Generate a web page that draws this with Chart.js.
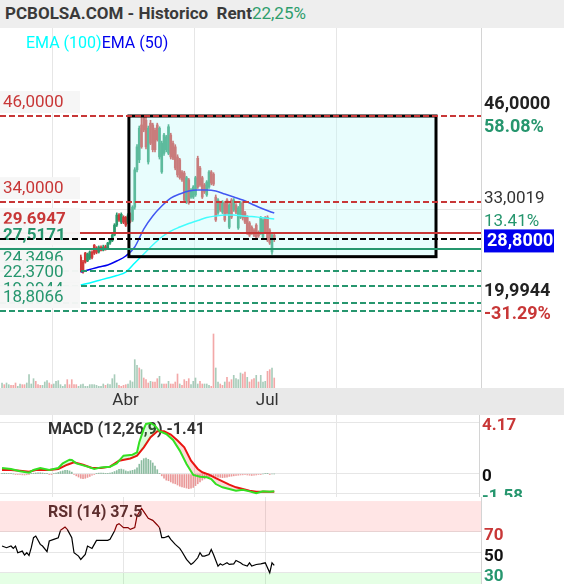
<!DOCTYPE html>
<html>
<head>
<meta charset="utf-8">
<script src="https://cdn.jsdelivr.net/npm/chart.js@4.4.0/dist/chart.umd.min.js"></script>
<style>
body { margin: 0; background: #fff; }
#wrap { position: relative; width: 564px; height: 584px; overflow: hidden; background: #fff; font-family: Roboto, sans-serif; }
#title { position: absolute; left: 0; top: 0; width: 564px; height: 28px; background: #eeeeee; white-space: pre; font: bold 17px Roboto; color: #3a3a3a; line-height: 26px; padding-left: 5px; box-sizing: border-box; }
#title span { color: #2d9d6c; font-weight: 400; }
#legend { position: absolute; left: 26px; top: 33px; font: 16px Roboto; white-space: pre; }
canvas { position: absolute; left: 0; }
</style>
</head>
<body>
<div id="wrap">
  <div id="title">PCBOLSA.COM - Historico  Rent<span>22,25%</span></div>
  <canvas id="priceChart" width="564" height="387" style="top:28px"></canvas>
  <canvas id="macdChart" width="564" height="82" style="top:415px"></canvas>
  <canvas id="rsiChart" width="564" height="87" style="top:497px"></canvas>
  <div id="legend"><span style="color:#00ffff">EMA (100)</span><span style="color:#0000ee">EMA (50)</span></div>
</div>
<script>
// x axis: one bar per trading day, index 0..121
const monthLabels = ["Abr", "Jul"];
const monthIdx = [54, 117];

// candles (first visible one is bar 35, the older ones sit under the label boxes)
const candleStart = 35;
const opens = [26.35,25.65,26.9,25.8,26.2,27.0,28.0,27.6,27.05,27.7,27.3,27.8,27.6,28.3,28.6,29.4,30.8,32.2,31.2,31.9,31.9,31.2,32.3,31.5,33.3,38.5,39.9,44.75,45.9,45.4,39.6,45.0,44.75,44.0,44.75,40.3,38.2,40.8,41.3,40.8,43.35,42.2,41.7,40.3,39.9,38.2,38.05,34.0,37.1,34.7,34.7,35.0,40.1,38.75,37.4,36.4,35.0,36.1,38.2,37.9,34.7,32.5,33.9,32.6,33.9,34.3,30.5,34.3,32.9,33.6,30.4,31.9,33.9,32.5,31.9,31.1,30.5,30.1,30.8,29.8,29.7,29.1,31.8,31.9,30.1,27.05,29.4];
const closes = [24.54,24.26,25.65,26.77,27.05,26.3,26.9,27.0,27.75,27.3,27.75,27.4,28.3,28.7,29.4,30.8,32.2,31.5,32.3,31.2,30.8,32.2,31.3,33.3,38.5,41.7,44.3,41.7,44.05,41.7,44.3,42.2,41.3,41.3,42.7,44.3,42.2,43.35,43.1,44.5,40.3,40.1,38.75,37.8,37.4,37.1,34.3,37.4,33.9,35.7,36.1,37.4,36.1,36.4,34.7,35.4,36.8,38.2,36.65,36.5,31.5,34.3,32.9,34.0,31.5,32.5,33.6,31.9,34.3,32.6,33.2,33.9,31.8,31.2,29.7,29.4,29.7,29.4,29.1,29.3,31.8,31.5,29.8,28.7,28.3,29.4,28.8];
const highs = [26.63,25.9,27.0,26.9,27.2,27.2,28.1,27.8,27.9,27.9,28.0,28.0,28.4,28.9,29.6,31.0,32.5,32.4,32.5,32.1,32.0,32.4,32.5,33.5,38.8,42.0,44.6,45.9,46.1,46.0,44.6,45.4,45.0,44.3,45.0,44.5,42.5,43.6,43.3,44.8,43.6,42.5,42.0,40.6,40.1,38.4,38.3,37.6,37.3,35.9,36.3,37.6,40.4,39.0,37.6,36.6,37.0,38.4,38.4,38.1,35.0,34.5,34.1,34.2,34.1,34.5,33.8,34.5,34.5,33.8,33.4,34.1,34.1,32.7,32.1,31.3,30.7,30.3,31.0,30.0,32.0,31.7,32.0,32.1,30.3,29.6,29.6];
const lows = [24.26,24.1,25.5,25.7,26.0,26.1,26.7,26.8,26.9,27.2,27.2,27.3,27.5,28.1,28.5,29.3,30.6,31.3,31.0,31.0,30.6,31.0,31.1,31.3,33.0,38.2,39.5,41.5,43.8,41.4,39.3,42.0,41.0,41.0,42.5,40.0,38.0,40.5,41.0,40.6,40.0,39.9,38.5,37.5,37.2,36.9,34.0,33.8,33.7,34.5,34.5,34.8,35.9,36.2,34.5,35.2,34.8,35.9,36.4,36.3,31.3,32.3,32.7,32.4,31.3,32.3,30.3,31.7,32.7,32.4,30.2,31.7,31.5,31.0,29.5,29.2,29.5,29.2,28.9,29.1,29.5,28.9,29.6,28.5,28.1,26.7,28.5];

// moving averages
const emaIdx = [35,39,43,47,51,55,59,63,67,71,75,79,83,87,91,95,99,103,107,111,115,119,121];
const ema50 = [24.26,24.61,24.96,25.24,25.79,26.49,27.75,30.25,32.07,33.46,34.57,35.13,35.55,35.69,35.69,35.55,35.13,34.71,34.29,33.74,33.18,32.69,32.48];
const ema100 = [22.45,22.73,23.08,23.43,23.77,24.26,25.52,26.77,28.02,29.14,29.97,30.53,31.02,31.44,31.86,32.07,32.20,32.20,32.07,32.00,31.86,31.72,31.65];

// volume in thousands, 1 = up day
const volumes = [150,100,150,100,80,80,150,50,120,100,100,150,400,120,280,200,100,80,80,180,220,150,100,120,200,220,100,50,100,250,100,250,100,100,50,100,120,50,50,100,100,100,80,50,50,120,80,120,100,280,400,150,80,50,80,100,120,220,180,850,680,600,550,300,250,150,200,180,180,280,350,120,120,120,200,120,120,180,420,120,80,250,200,280,100,200,300,120,200,120,120,120,80,50,1620,600,180,120,80,180,320,180,250,380,280,250,450,420,480,320,180,250,280,380,180,380,180,200,500,550,600,300];
const volUp = [1,0,1,1,0,0,0,1,1,0,0,1,1,1,1,0,0,0,1,1,1,0,0,1,1,1,1,1,1,0,0,0,0,0,1,1,1,1,1,1,1,1,1,1,1,1,0,1,1,1,1,1,0,0,0,0,1,1,1,1,1,0,1,0,0,0,1,0,0,0,1,1,0,0,1,0,0,0,0,1,0,0,0,0,1,1,1,1,0,0,1,1,1,0,0,1,1,0,0,1,0,0,0,1,1,1,1,0,0,1,0,0,0,1,0,1,1,1,0,0,1,0];

// levels
const boxX = [56.4, 192.9];
const boxY = [26.4, 46];
const leftLevels = [46, 34, 29.6947, 27.5171, 24.3496, 22.37, 19.9944, 18.8066];
const leftIsRed = [1, 1, 1, 0, 0, 0, 0, 0];
const leftBold = [0, 0, 1, 1, 0, 0, 0, 0];
const lineLevels = [29.6947, 24.3496, 22.37, 19.9944, 18.8066, 46, 34, 28.8, 27.5171];
const lineColors = ["red", "green", "green", "green", "green", "red", "red", "black", "green"];
const lineDashed = [0, 1, 1, 1, 1, 1, 1, 1, 0];
const lineOnTop = [0, 0, 0, 0, 0, 1, 1, 1, 1];
const rightLevels = [46, 33.0019, 28.8, 19.9944];
const rightBold = [1, 0, 1, 1];
const lastPrice = 28.8;
const baseValue = 29.1;

// MACD (12,26,9)
const macdIdx = [0,4,8,12,14,17,21,25,27,30,31,33,38,41,44,48,51,54,58,60,61,63,64,66,68,70,73,76,79,82,85,88,91,93,95,98,101,104,107,110,113,116,119,121];
const macdVal = [0.49,0.41,0.22,0.11,0.33,0.49,0.33,0.49,0.87,1.17,1.14,0.87,0.60,0.41,0.54,0.60,0.87,1.50,1.58,1.77,2.59,3.68,4.09,4.17,3.95,3.49,3.27,2.78,1.91,0.82,-0.08,-0.22,-0.27,-0.41,-0.82,-1.09,-1.23,-1.37,-1.28,-1.42,-1.58,-1.42,-1.45,-1.41];
const sigIdx = [0,4,8,12,15,21,25,29,32,36,40,44,48,52,57,60,63,66,69,72,75,78,81,84,87,89,92,95,98,101,104,107,110,113,116,119,121];
const sigVal = [0.33,0.33,0.27,0.19,0.33,0.33,0.41,0.76,0.95,0.76,0.49,0.49,0.60,1.09,1.27,1.50,2.18,3.00,3.49,3.49,3.22,2.73,2.18,1.09,0.41,0.14,-0.05,-0.33,-0.60,-0.87,-1.09,-1.23,-1.37,-1.45,-1.45,-1.45,-1.45];
const histVal = [0.05,0.06,0.05,0.04,0.03,0.0,-0.03,-0.05,-0.06,-0.07,-0.08,-0.06,-0.03,0.03,0.06,0.08,0.1,0.1,0.08,0.05,0.02,-0.03,-0.02,0.04,0.08,0.13,0.2,0.25,0.3,0.3,0.25,0.15,-0.05,-0.15,-0.25,-0.35,-0.38,-0.35,-0.28,-0.2,-0.1,-0.03,0.05,0.07,0.08,0.07,0.05,0.05,0.08,0.12,0.2,0.28,0.38,0.4,0.35,0.25,0.2,0.25,0.3,0.35,0.5,0.8,1.1,1.25,1.3,1.2,1.1,0.9,0.65,0.35,0.05,-0.15,-0.35,-0.5,-0.55,-0.65,-0.75,-0.8,-0.9,-1.0,-1.05,-1.1,-1.15,-1.2,-1.15,-1.1,-0.95,-0.8,-0.65,-0.5,-0.4,-0.3,-0.25,-0.2,-0.18,-0.2,-0.25,-0.28,-0.3,-0.28,-0.25,-0.2,-0.18,-0.15,-0.12,-0.1,-0.08,-0.07,-0.06,-0.08,-0.1,-0.12,-0.1,-0.08,-0.05,-0.03,0.0,0.04,0.03,-0.02,0,0];
const macdTicks = [4.17, 0, -1.58];

// RSI (14)
const rsiIdx = [0,2,4,5,6,7,9,10,11,12,13,14,15,17,18,20,21,23,25,26,28,29,31,32,34,35,37,38,40,42,44,47,48,50,51,52,54,56,57,59,60,62,63,65,67,69,70,71,72,74,75,77,79,80,82,84,85,87,88,89,90,92,93,94,96,97,98,100,101,103,104,106,107,109,110,111,113,115,117,119,120,121];
const rsiVal = [56.2,54.6,56.2,53.9,56.2,49.7,51.3,47.4,49.7,47.1,54.6,64.3,65.9,57.8,56.2,50.7,61.1,62.7,64.3,71.5,74.7,72.4,64.3,49.7,46.4,43.2,48.0,56.2,53.9,61.7,61.7,61.7,62.7,70.8,76.7,78.0,74.1,74.1,72.4,74.1,85.4,92.9,89.7,83.2,81.2,76.7,74.1,64.3,64.3,65.9,62.7,57.8,53.9,50.7,43.2,38.3,39.9,44.8,49.7,46.4,46.4,48.0,52.9,48.0,36.7,38.9,37.6,39.9,38.3,38.9,42.2,39.9,38.3,36.7,39.9,36.7,38.3,38.9,39.9,30.2,39.9,37.5];
const rsiTicks = [70, 50, 30];

const RED = "#c83737";
const GREEN = "#26966e";
const UP = "#2a9a6c";
const DOWN = "#d03a3a";
const GRID = "#e6e6e6";

function fmt(v) {
    return v.toFixed(4).replace(".", ",");
}

function xScale(max) {
    return {
        type: "linear", min: -0.9, max: max, offset: false,
        ticks: { display: false },
        grid: { color: GRID, drawTicks: false },
        border: { display: false },
        afterBuildTicks: s => { s.ticks = monthIdx.map(v => ({ value: v })); }
    };
}

function yScale(min, max, lines) {
    return {
        position: "right", min: min, max: max,
        ticks: { display: false },
        grid: { color: GRID, drawTicks: false },
        border: { display: true, color: "#d4d4d4" },
        afterBuildTicks: s => { s.ticks = lines.map(v => ({ value: v })); }
    };
}

// ---------- price panel ----------
let candleUp = opens.map((o, k) => closes[k] >= o);
let bodies = opens.map((o, k) => ({ x: candleStart + k, y: [o, closes[k]] }));
let wicks = opens.map((o, k) => ({ x: candleStart + k, y: [lows[k], highs[k]] }));

function drawLevels(ctx, area, y, onTop) {
    lineLevels.forEach((v, k) => {
        if (!!lineOnTop[k] !== onTop) return;
        let py = Math.round(y.getPixelForValue(v));
        ctx.beginPath();
        ctx.setLineDash(lineDashed[k] ? [6, 3] : []);
        ctx.lineWidth = 2;
        ctx.strokeStyle = lineColors[k] === "red" ? RED : lineColors[k] === "green" ? GREEN : "#000";
        ctx.moveTo(area.left, py);
        ctx.lineTo(area.right, py);
        ctx.stroke();
    });
    ctx.setLineDash([]);
}

const pricePlugin = {
    id: "pricePlugin",
    afterDatasetsDraw(chart) {
        const { ctx, chartArea: area, scales: { x, y } } = chart;
        ctx.save();
        let bx0 = x.getPixelForValue(boxX[0]), bx1 = x.getPixelForValue(boxX[1]);
        let by0 = y.getPixelForValue(boxY[1]), by1 = y.getPixelForValue(boxY[0]);
        ctx.fillStyle = "rgba(190,250,250,0.35)";
        ctx.fillRect(bx0, by0, bx1 - bx0, by1 - by0);
        ctx.lineWidth = 3;
        ctx.strokeStyle = "#000";
        ctx.strokeRect(bx0, by0, bx1 - bx0, by1 - by0);

        drawLevels(ctx, area, y, false);

        ctx.textBaseline = "middle";
        leftLevels.forEach((v, k) => {
            let py = y.getPixelForValue(v);
            ctx.fillStyle = "rgba(246,246,246,0.97)";
            ctx.fillRect(0, py - 25, 80, 22);
            ctx.fillStyle = leftIsRed[k] ? RED : GREEN;
            ctx.font = (leftBold[k] ? "bold " : "") + "17px Roboto";
            ctx.fillText(fmt(v), 3, py - 13);
        });

        drawLevels(ctx, area, y, true);

        let rx = area.right + 3;
        rightLevels.forEach((v, k) => {
            let py = y.getPixelForValue(v);
            if (v === lastPrice) {
                ctx.fillStyle = "#0000ee";
                ctx.fillRect(rx, py - 10, 70, 23);
                ctx.fillStyle = "#fff";
                ctx.font = "bold 18px Roboto";
                ctx.fillText(fmt(v), rx + 3, py + 2);
                return;
            }
            let pct = (v / baseValue - 1) * 100;
            ctx.font = (rightBold[k] ? "bold " : "") + (rightBold[k] ? "18px" : "17px") + " Roboto";
            ctx.fillStyle = rightBold[k] ? "#222" : "#333";
            ctx.fillText(fmt(v), rx, py - 11);
            ctx.fillStyle = pct >= 0 ? GREEN : RED;
            ctx.fillText(pct.toFixed(2) + "%", rx, py + 12);
        });
        ctx.restore();
    },
    afterDraw(chart) {
        const { ctx, chartArea: area, scales: { x } } = chart;
        ctx.save();
        ctx.fillStyle = "#e9e9e9";
        ctx.fillRect(0, area.bottom, chart.width, chart.height - area.bottom);
        ctx.fillStyle = "#333";
        ctx.font = "17px Roboto";
        ctx.textAlign = "center";
        ctx.textBaseline = "middle";
        monthIdx.forEach((v, k) => {
            ctx.fillText(monthLabels[k], x.getPixelForValue(v) + 2, area.bottom + 13);
        });
        ctx.restore();
    }
};

new Chart("priceChart", {
    type: "bar",
    data: {
        datasets: [
            {
                type: "line", label: "EMA (50)", order: 1,
                data: emaIdx.map((v, k) => ({ x: v, y: ema50[k] })),
                borderColor: "#0000ee", borderWidth: 1.5, pointRadius: 0,
                cubicInterpolationMode: "monotone", yAxisID: "y"
            },
            {
                type: "line", label: "EMA (100)", order: 2,
                data: emaIdx.map((v, k) => ({ x: v, y: ema100[k] })),
                borderColor: "#00ffff", borderWidth: 1.5, pointRadius: 0,
                cubicInterpolationMode: "monotone", yAxisID: "y"
            },
            {
                label: "body", order: 3, data: bodies, yAxisID: "y", grouped: false,
                barThickness: 2, backgroundColor: candleUp.map(u => u ? UP : DOWN)
            },
            {
                label: "wick", order: 4, data: wicks, yAxisID: "y", grouped: false,
                barThickness: 1, backgroundColor: candleUp.map(u => u ? UP : DOWN)
            },
            {
                label: "volume", order: 5, yAxisID: "yv", grouped: false, barThickness: 1,
                data: volumes.map((v, k) => ({ x: k, y: v })),
                backgroundColor: volUp.map(u => u ? "rgba(110,170,140,0.6)" : "rgba(235,110,110,0.6)")
            }
        ]
    },
    options: {
        responsive: false, animation: false, devicePixelRatio: 1,
        layout: { padding: { left: 0, right: 83, top: 0, bottom: 27 } },
        plugins: { legend: { display: false }, tooltip: { enabled: false } },
        scales: {
            x: xScale(212.9),
            y: yScale(8.1, 58.26, [33.0019]),
            yv: { display: false, min: 0, max: 10800 }
        }
    },
    plugins: [pricePlugin]
});

// ---------- MACD panel ----------
const macdPlugin = {
    id: "macdPlugin",
    beforeDatasetsDraw(chart) {
        const { ctx } = chart;
        ctx.save();
        ctx.fillStyle = "#333";
        ctx.font = "bold 16px Roboto";
        ctx.textBaseline = "middle";
        ctx.fillText("MACD (12,26,9) " + macdVal[macdVal.length - 1].toFixed(2), 48, 15);
        ctx.restore();
    },
    afterDraw(chart) {
        const { ctx, chartArea: area, scales: { y } } = chart;
        ctx.save();
        ctx.font = "bold 17px Roboto";
        ctx.textBaseline = "middle";
        macdTicks.forEach(v => {
            ctx.fillStyle = v > 0 ? RED : v < 0 ? GREEN : "#111";
            ctx.fillText(v === 0 ? "0" : v.toFixed(2), area.right + 3, y.getPixelForValue(v) + 3);
        });
        ctx.restore();
    }
};

new Chart("macdChart", {
    type: "bar",
    data: {
        datasets: [
            {
                type: "line", label: "MACD", order: 1,
                data: macdIdx.map((v, k) => ({ x: v, y: macdVal[k] })),
                borderColor: "#33e022", borderWidth: 2, pointRadius: 0,
                fill: { target: 1, above: "rgba(40,230,40,0.16)", below: "rgba(240,40,40,0.16)" }
            },
            {
                type: "line", label: "Signal", order: 2,
                data: sigIdx.map((v, k) => ({ x: v, y: sigVal[k] })),
                borderColor: "#ee1111", borderWidth: 2, pointRadius: 0
            },
            {
                label: "Hist", order: 3, grouped: false, barThickness: 1,
                data: histVal.map((v, k) => ({ x: k, y: v })),
                backgroundColor: histVal.map(v => v >= 0 ? "rgba(90,160,120,0.7)" : "rgba(225,110,110,0.7)")
            }
        ]
    },
    options: {
        responsive: false, animation: false, devicePixelRatio: 1,
        layout: { padding: { left: 0, right: 85, top: 0, bottom: 0 } },
        plugins: { legend: { display: false }, tooltip: { enabled: false } },
        scales: {
            x: xScale(212.0),
            y: yScale(-1.88, 4.82, macdTicks)
        }
    },
    plugins: [macdPlugin]
});

// ---------- RSI panel ----------
const rsiPlugin = {
    id: "rsiPlugin",
    afterDatasetsDraw(chart) {
        const { ctx, chartArea: area, scales: { y } } = chart;
        ctx.save();
        let p100 = y.getPixelForValue(100), p70 = y.getPixelForValue(70), p30 = y.getPixelForValue(30);
        ctx.fillStyle = "rgba(255,0,0,0.1)";
        ctx.fillRect(area.left, p100, area.right - area.left, p70 - p100);
        ctx.fillStyle = "rgba(0,255,0,0.1)";
        ctx.fillRect(area.left, p30, area.right - area.left, area.bottom - p30);
        ctx.fillStyle = "#5e2e2e";
        ctx.font = "bold 16px Roboto";
        ctx.textBaseline = "middle";
        ctx.fillText("RSI (14) " + rsiVal[rsiVal.length - 1].toFixed(1), 48, 16);
        ctx.restore();
    },
    afterDraw(chart) {
        const { ctx, chartArea: area, scales: { y } } = chart;
        ctx.save();
        ctx.font = "bold 17px Roboto";
        ctx.textBaseline = "middle";
        rsiTicks.forEach(v => {
            ctx.fillStyle = v > 50 ? RED : v < 50 ? GREEN : "#111";
            ctx.fillText(String(v), area.right + 3, y.getPixelForValue(v) + 4);
        });
        ctx.restore();
    }
};

new Chart("rsiChart", {
    type: "line",
    data: {
        datasets: [{
            label: "RSI",
            data: rsiIdx.map((v, k) => ({ x: v, y: rsiVal[k] })),
            borderColor: "#000", borderWidth: 1.2, pointRadius: 0,
            segment: { borderColor: c => (c.p0.parsed.y > 70 && c.p1.parsed.y > 70) ? "#7a0000" : undefined }
        }]
    },
    options: {
        responsive: false, animation: false, devicePixelRatio: 1,
        layout: { padding: { left: 0, right: 83, top: 0, bottom: 0 } },
        plugins: { legend: { display: false }, tooltip: { enabled: false } },
        scales: {
            x: xScale(212.9),
            y: yScale(19.3, 103.9, rsiTicks)
        }
    },
    plugins: [rsiPlugin]
});
</script>
</body>
</html>
